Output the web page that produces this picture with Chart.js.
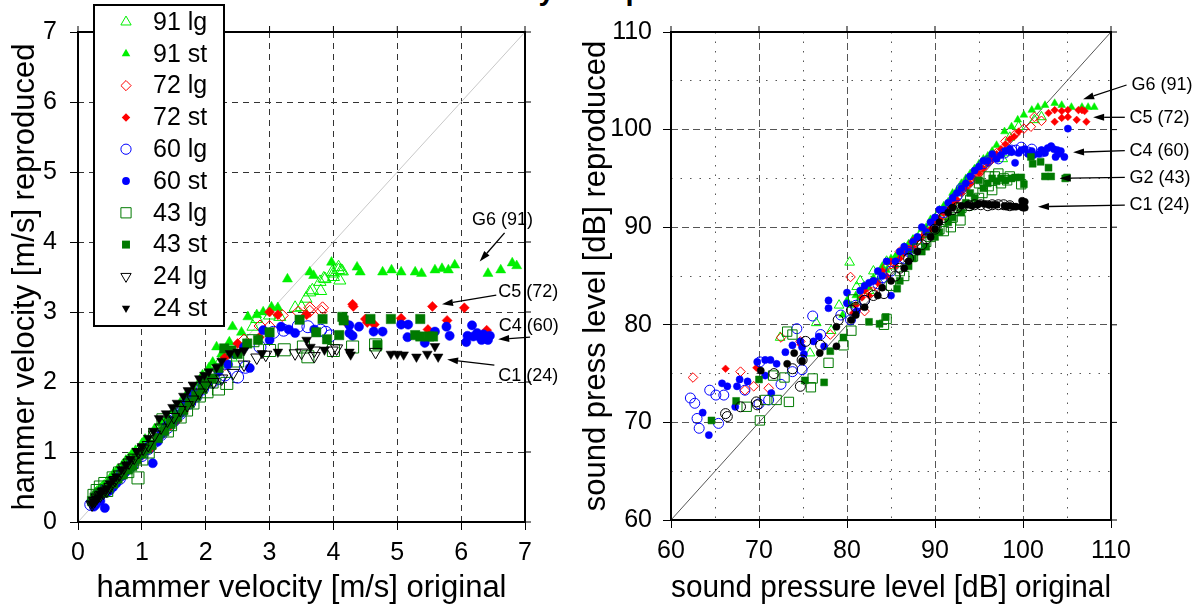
<!DOCTYPE html>
<html><head><meta charset="utf-8">
<script src="https://cdn.jsdelivr.net/npm/chart.js@4.4.1/dist/chart.umd.min.js"></script>
<style>
html,body{margin:0;padding:0;background:#fff;width:1201px;height:612px;overflow:hidden;position:relative}
#title{position:absolute;left:0;top:-24px;width:1201px;text-align:center;font:bold 29px "Liberation Sans",Arial,sans-serif;line-height:29px;white-space:nowrap}
#c1{position:absolute;left:0;top:0}
#c2{position:absolute;left:580px;top:0}
</style></head><body>
<div id="title">Accuracy of reproduction</div>
<canvas id="c1" width="580" height="612"></canvas>
<canvas id="c2" width="621" height="612"></canvas>
<script>
// ---------- data ----------
const seriesLabels = ['91 lg','91 st','72 lg','72 st','60 lg','60 st','43 lg','43 st','24 lg','24 st'];
const leftTicks = [0,1,2,3,4,5,6,7];
const rightTicks = [60,70,80,90,100,110];
const leftDiag = [0,7];
const rightDiag = [60,110];

// hammer velocity [m/s]: [original, reproduced]
const v91lg = [[0.25,0.35],[0.28,0.4],[0.3,0.42],[0.38,0.48],[0.45,0.55],[0.55,0.62],[0.6,0.7],[0.65,0.72],[0.75,0.82],[0.8,0.9],[0.9,0.95],[1.05,1.1],[1.15,1.22],[1.2,1.25],[1.35,1.4],[1.45,1.5],[1.5,1.55],[1.7,1.72],[1.8,1.85],[1.9,1.92],[2.0,2.05],[2.1,2.1],[2.2,2.25],[2.3,2.3],[2.4,2.35],[2.5,2.45],[2.74,2.79],[2.8,2.9],[3.0,2.95],[3.16,2.93],[3.4,3.06],[3.5,3.07],[3.57,3.19],[3.63,3.28],[3.67,3.31],[3.79,3.43],[3.8,3.3],[3.85,3.48],[3.87,3.47],[3.98,3.57],[4.0,3.5],[4.0,3.55],[4.08,3.6],[4.08,3.64],[4.1,3.45],[4.12,3.59],[4.14,3.58]];
const v91st = [[0.22,0.3],[0.26,0.35],[0.3,0.4],[0.35,0.48],[0.4,0.52],[0.5,0.62],[0.55,0.68],[0.62,0.75],[0.7,0.82],[0.75,0.88],[0.85,0.98],[0.9,1.02],[1.0,1.12],[1.05,1.18],[1.2,1.33],[1.3,1.42],[1.4,1.5],[1.5,1.6],[1.6,1.7],[1.7,1.82],[1.8,1.9],[1.9,2.0],[1.95,2.1],[2.05,2.2],[2.11,2.28],[2.17,2.5],[2.25,2.4],[2.37,2.57],[2.42,2.79],[2.56,2.71],[2.66,2.93],[2.8,2.96],[2.9,3.0],[3.03,3.07],[3.13,3.06],[3.28,3.47],[3.63,3.57],[3.69,3.52],[3.97,3.71],[4.37,3.64],[4.42,3.57],[4.77,3.57],[4.91,3.6],[5.06,3.57],[5.28,3.57],[5.38,3.55],[5.59,3.6],[5.7,3.62],[5.8,3.6],[5.9,3.67],[6.42,3.55],[6.62,3.6],[6.8,3.7],[6.87,3.66]];
const v72lg = [[0.25,0.3],[0.35,0.38],[0.5,0.5],[0.7,0.68],[0.9,0.86],[1.1,1.05],[1.3,1.25],[1.5,1.45],[1.75,1.7],[2.0,1.95],[2.3,2.25],[2.6,2.6],[2.85,2.8],[3.0,2.79],[3.2,2.95],[3.45,3.0],[3.63,3.01],[3.63,3.06],[3.81,3.01],[3.83,3.06]];
const v72st = [[0.22,0.28],[0.28,0.32],[0.32,0.35],[0.4,0.42],[0.45,0.48],[0.6,0.58],[0.7,0.7],[0.8,0.78],[0.9,0.88],[1.0,0.95],[1.15,1.05],[1.25,1.2],[1.35,1.28],[1.45,1.38],[1.55,1.45],[1.65,1.58],[1.8,1.75],[1.9,1.85],[2.05,2.0],[2.2,2.15],[2.3,2.35],[2.5,2.55],[2.84,2.64],[3.13,2.96],[3.0,3.0],[3.58,2.96],[4.22,2.83],[4.3,3.11],[4.31,3.08],[4.5,2.9],[4.53,2.85],[4.64,2.82],[5.06,2.91],[5.48,2.75],[5.55,3.08],[5.78,2.88],[6.05,3.06],[6.4,2.74]];
const v60lg = [[0.2,0.25],[0.25,0.28],[0.3,0.32],[0.35,0.4],[0.42,0.45],[0.5,0.5],[0.55,0.55],[0.65,0.62],[0.7,0.7],[0.8,0.78],[0.85,0.82],[1.0,0.95],[1.1,1.05],[1.2,1.15],[1.3,1.25],[1.4,1.35],[1.5,1.45],[1.6,1.55],[1.75,1.7],[1.85,1.8],[1.95,1.9],[2.1,2.0],[2.2,2.05],[2.3,2.1],[2.5,2.07],[2.62,2.21],[2.85,2.5],[3.06,2.71],[3.22,2.74],[3.45,2.8],[3.6,2.79],[3.8,2.74],[3.88,2.71],[3.95,2.66]];
const v60st = [[0.21,0.29],[0.25,0.22],[0.28,0.25],[0.32,0.38],[0.35,0.3],[0.42,0.2],[0.45,0.42],[0.5,0.45],[0.55,0.5],[0.6,0.55],[0.68,0.65],[0.75,0.72],[0.82,0.8],[0.9,0.88],[0.98,0.95],[1.05,1.02],[1.12,1.1],[1.17,0.84],[1.25,1.15],[1.3,1.25],[1.4,1.38],[1.5,1.45],[1.6,1.55],[1.7,1.72],[1.8,1.82],[1.95,1.95],[2.05,2.0],[2.2,2.15],[2.35,2.25],[2.45,2.4],[2.6,2.5],[2.69,2.2],[2.9,2.74],[3.0,2.6],[3.18,2.79],[3.3,2.75],[3.4,2.7],[3.7,2.75],[4.25,2.81],[4.25,2.7],[4.3,2.66],[4.4,2.79],[4.63,2.72],[4.77,2.72],[5.06,2.82],[5.16,2.64],[5.17,2.82],[5.43,2.56],[5.59,2.72],[5.77,2.79],[5.82,2.66],[6.08,2.57],[6.1,2.66],[6.17,2.81],[6.19,2.65],[6.25,2.7],[6.28,2.65],[6.32,2.6],[6.35,2.68],[6.4,2.62],[6.42,2.6],[6.45,2.66]];
const v43lg = [[0.25,0.38],[0.3,0.45],[0.35,0.5],[0.42,0.55],[0.45,0.45],[0.55,0.63],[0.65,0.7],[0.78,0.72],[0.85,0.85],[0.94,0.63],[1.0,0.9],[1.1,1.0],[1.2,1.25],[1.33,1.46],[1.4,1.3],[1.45,1.39],[1.6,1.5],[1.7,1.6],[1.8,1.7],[1.9,1.8],[2.02,1.86],[2.1,2.0],[2.2,1.9],[2.33,1.98],[2.5,2.3],[2.74,2.59],[3.0,2.45],[3.23,2.46],[3.53,2.5],[3.6,2.36],[4.0,2.45],[4.3,2.5],[4.66,2.53]];
const v43st = [[0.22,0.3],[0.26,0.35],[0.3,0.38],[0.35,0.42],[0.4,0.42],[0.48,0.5],[0.55,0.55],[0.62,0.62],[0.7,0.68],[0.78,0.75],[0.85,0.8],[0.92,0.9],[1.0,0.98],[1.08,1.05],[1.15,1.1],[1.25,1.2],[1.35,1.3],[1.45,1.4],[1.55,1.5],[1.65,1.6],[1.75,1.7],[1.85,1.8],[1.95,1.9],[2.0,2.0],[2.1,2.05],[2.2,2.2],[2.29,2.48],[2.4,2.45],[2.5,2.4],[2.65,2.55],[2.82,2.6],[3.0,2.71],[3.47,2.89],[3.73,2.71],[3.83,2.9],[3.9,2.61],[4.09,2.67],[4.14,2.93],[4.16,2.88],[4.58,2.9],[4.69,2.53],[4.9,2.9],[5.28,2.67],[5.36,2.9],[5.36,2.65],[5.5,2.65],[5.56,2.65]];
const v24lg = [[0.22,0.25],[0.26,0.3],[0.3,0.35],[0.35,0.38],[0.4,0.42],[0.45,0.45],[0.5,0.5],[0.58,0.6],[0.65,0.68],[0.72,0.78],[0.8,0.85],[0.88,0.92],[0.95,1.0],[1.02,1.05],[1.1,1.1],[1.2,1.25],[1.3,1.35],[1.4,1.45],[1.5,1.5],[1.6,1.6],[1.71,1.67],[1.8,1.75],[1.9,1.85],[2.0,1.95],[2.12,2.0],[2.25,2.05],[2.43,2.13],[2.6,2.25],[2.8,2.35],[2.94,2.39],[3.4,2.41],[3.5,2.42],[3.7,2.45],[3.7,2.37],[3.98,2.45],[4.05,2.48],[4.66,2.43]];
const v24st = [[0.22,0.26],[0.25,0.3],[0.28,0.33],[0.32,0.35],[0.35,0.4],[0.38,0.45],[0.45,0.48],[0.5,0.55],[0.55,0.6],[0.6,0.65],[0.68,0.75],[0.75,0.82],[0.82,0.9],[0.92,1.01],[1.0,1.08],[1.1,1.2],[1.18,1.3],[1.27,1.48],[1.38,1.55],[1.48,1.64],[1.55,1.7],[1.65,1.8],[1.72,1.88],[1.8,1.96],[1.9,2.05],[1.98,2.1],[2.05,2.15],[2.17,2.21],[2.25,2.3],[2.38,2.41],[2.5,2.43],[2.6,2.45],[2.88,2.41],[3.13,2.43],[3.58,2.6],[3.64,2.5],[3.86,2.46],[4.25,2.43],[4.27,2.39],[4.9,2.4],[5.0,2.4],[5.1,2.39],[5.3,2.36],[5.47,2.4],[5.59,2.51],[5.64,2.36]];

// sound pressure level [dB]: [original, reproduced]
const s91lg = [[72.4,78.7],[75.8,77.1],[76.5,80.2],[78.2,79.4],[79.1,82.0],[80.3,86.4],[81.1,83.9],[81.5,84.5],[82.5,83.5],[83.0,85.5],[83.5,85.0],[84.5,86.5],[85.0,86.0],[85.5,86.8],[86.5,87.5],[87.0,87.8],[87.5,88.6],[88.5,89.5],[89.0,89.6],[89.5,90.2],[90.5,91.5],[91.0,91.2],[91.5,92.0],[92.5,93.5],[93.0,94.0],[93.5,94.5],[94.5,95.8],[95.0,96.0],[95.5,96.5],[96.5,97.2],[97.7,97.0],[97.9,97.6],[98.5,99.2],[99.5,100.3],[101.3,101.0],[102.1,101.3]];
const s91st = [[79.5,81.0],[80.0,82.5],[80.5,82.0],[81.0,83.0],[81.5,82.8],[82.0,84.0],[82.5,83.8],[83.0,84.8],[83.5,84.5],[84.0,86.0],[84.5,85.6],[85.0,86.8],[85.5,87.0],[86.0,87.2],[86.5,88.0],[87.0,88.3],[87.5,88.8],[88.0,89.0],[88.5,89.8],[89.0,90.0],[89.5,90.8],[90.0,91.0],[90.5,91.8],[91.0,92.2],[91.5,92.6],[92.0,93.5],[92.5,93.8],[93.0,94.5],[93.5,95.0],[94.0,95.5],[94.5,96.0],[95.0,96.5],[95.5,97.0],[96.0,97.3],[96.5,97.8],[97.0,98.4],[97.9,99.8],[98.7,100.3],[99.4,101.0],[100.1,101.5],[101.0,102.0],[101.7,102.3],[102.5,102.5],[103.6,102.7],[104.4,102.5],[105.5,102.3],[106.7,102.3],[107.4,102.3],[108.1,102.3]];
const s72lg = [[62.5,74.6],[67.9,75.2],[68.4,73.3],[69.4,73.7],[71.1,73.5],[72.5,78.7],[74.7,78.3],[78.1,79.0],[80.4,84.9],[82.0,81.4],[82.9,83.4],[83.0,84.0],[84.5,86.0],[85.0,86.2],[86.0,87.5],[87.5,88.5],[88.0,88.6],[89.0,89.5],[90.5,91.0],[91.0,91.2],[92.0,92.5],[93.5,94.2],[94.0,94.6],[95.0,95.5],[96.5,97.0],[97.0,97.6],[98.0,98.8],[99.1,99.5],[100.1,100.1],[100.9,100.3],[101.3,101.3],[102.1,100.9]];
const s72st = [[66.2,75.5],[69.7,75.6],[74.7,78.0],[80.7,81.2],[81.0,82.0],[81.7,82.8],[82.0,83.5],[82.5,83.0],[83.0,84.5],[83.5,84.3],[84.0,85.5],[84.5,85.0],[85.0,86.5],[85.5,86.0],[86.0,86.8],[86.5,87.3],[87.0,87.8],[87.5,88.0],[88.0,88.8],[88.5,89.0],[89.0,89.5],[89.5,89.8],[90.0,90.5],[90.5,90.8],[91.0,91.5],[91.5,91.8],[92.0,92.5],[92.5,92.8],[93.0,93.5],[93.5,94.0],[94.0,94.5],[94.5,95.0],[95.0,95.5],[95.5,96.0],[96.0,96.5],[96.5,97.0],[97.0,97.5],[97.5,98.0],[98.0,98.5],[98.5,99.0],[99.0,99.3],[99.5,99.8],[102.9,101.7],[103.6,100.8],[103.6,102.0],[104.4,101.2],[104.4,101.9],[105.1,101.3],[105.1,102.0],[106.1,101.0],[106.3,102.0],[106.7,102.0],[107.0,101.9],[107.2,100.8]];
const s60lg = [[62.2,72.5],[62.7,71.96],[62.96,70.4],[63.2,69.4],[64.4,73.3],[65.1,72.8],[65.4,69.9],[66.0,72.8],[68.4,73.3],[70.0,71.9],[70.1,76.2],[71.1,72.3],[72.5,73.9],[73.8,75.2],[74.3,79.6],[74.9,75.4],[76.1,80.9],[77.0,79.0],[79.3,81.0],[80.4,80.5],[81.0,82.0],[82.0,82.5],[83.5,84.2],[84.0,84.8],[85.0,85.5],[86.5,86.8],[87.0,87.5],[88.0,88.2],[89.5,89.8],[90.0,90.5],[91.0,91.5],[92.5,93.2],[93.0,94.0],[94.0,95.0],[95.5,96.5],[96.0,96.8],[97.2,97.0],[97.9,97.6],[98.7,97.9],[99.2,97.9],[99.8,98.2],[100.6,97.7],[101.0,98.0],[102.1,97.7]];
const s60st = [[63.6,71.0],[64.3,68.7],[65.8,74.0],[66.4,73.7],[67.3,71.6],[67.5,73.7],[67.8,74.4],[68.7,74.2],[69.8,76.2],[70.7,76.4],[70.7,74.8],[71.3,76.4],[71.4,73.0],[72.0,76.0],[73.0,77.2],[73.8,77.9],[74.7,78.3],[74.9,77.7],[75.1,77.0],[76.2,78.3],[76.8,78.8],[77.4,77.8],[77.9,81.7],[77.9,82.5],[80.0,82.2],[80.0,83.3],[81.1,81.4],[81.5,83.5],[82.0,84.0],[82.5,84.3],[83.0,84.5],[83.5,85.5],[84.0,85.0],[84.5,86.5],[85.0,83.0],[85.5,86.5],[86.0,87.5],[86.5,88.0],[87.0,87.5],[87.5,88.5],[88.0,89.0],[88.5,90.0],[89.0,89.5],[89.5,90.5],[90.0,91.0],[90.5,91.8],[91.0,91.8],[91.5,92.5],[92.0,93.0],[92.5,93.5],[93.0,94.0],[93.5,94.5],[94.0,95.2],[94.5,95.8],[95.0,96.2],[95.5,96.8],[96.0,96.8],[96.5,97.5],[97.0,97.0],[97.5,97.4],[98.0,97.8],[98.5,98.0],[98.7,97.7],[99.1,96.6],[99.5,97.6],[99.8,97.9],[100.2,98.0],[100.6,97.5],[101.0,97.8],[101.2,97.4],[101.8,97.5],[102.1,97.9],[102.5,97.6],[102.8,98.1],[103.2,98.3],[103.5,98.0],[103.7,97.2],[103.9,97.9],[104.0,97.5],[104.3,97.8],[104.7,97.2],[105.1,100.1]];
const s43lg = [[68.6,71.6],[70.1,70.2],[70.7,72.3],[71.6,74.8],[72.0,72.3],[72.9,74.6],[73.2,79.3],[73.4,72.1],[73.8,79.0],[75.9,73.6],[76.1,74.5],[77.9,76.1],[79.6,77.9],[80.5,79.4],[80.7,82.6],[84.2,80.0],[84.5,80.6],[85.0,84.0],[86.0,85.5],[86.5,85.0],[87.5,87.0],[88.0,87.8],[89.0,88.5],[89.5,89.0],[90.5,89.8],[91.0,89.6],[91.8,90.0],[92.0,91.0],[92.9,90.7],[93.0,92.0],[93.7,92.2],[94.0,92.8],[95.0,93.0],[95.0,94.5],[95.4,93.5],[96.1,94.2],[96.1,95.2],[96.5,93.8],[96.8,95.2],[97.2,95.5],[97.5,94.5],[97.8,95.0],[98.2,94.8],[98.5,95.2],[99.8,94.4]];
const s43st = [[64.6,70.2],[67.4,72.2],[70.0,74.4],[75.2,74.3],[77.4,74.1],[78.1,77.3],[79.6,78.7],[82.5,80.3],[83.7,80.1],[84.4,80.8],[85.7,83.7],[86.0,84.5],[87.0,86.0],[87.5,86.8],[88.5,87.5],[89.0,88.0],[90.0,89.0],[90.5,89.5],[91.5,90.5],[92.0,91.0],[93.0,91.5],[93.5,92.5],[94.0,93.5],[94.5,93.0],[95.0,94.8],[95.5,94.0],[96.0,94.5],[96.5,95.0],[97.0,94.7],[97.5,95.0],[98.0,94.8],[98.7,95.0],[99.1,95.1],[99.8,95.1],[100.1,94.4],[100.9,97.2],[101.1,96.5],[102.0,96.7],[102.5,95.2],[102.9,96.1],[103.2,95.2],[104.8,95.0],[105.0,95.1]];
const s24lg = [[66.2,70.9],[66.4,70.6],[67.9,71.6],[69.7,72.1],[69.8,71.8],[71.7,75.0],[73.8,75.5],[74.7,73.7],[74.9,76.4],[75.3,78.3],[77.0,77.9],[79.0,80.5],[80.5,81.5],[81.0,81.8],[82.0,82.5],[83.0,83.0],[84.2,83.2],[85.5,85.0],[86.0,85.8],[87.0,86.8],[88.5,88.2],[89.0,88.8],[90.0,89.8],[91.0,91.0],[92.0,91.8],[92.5,92.0],[93.9,92.2],[94.5,92.3],[95.2,92.3],[96.0,92.2],[96.5,92.3],[97.2,92.3],[97.8,92.3],[98.5,92.2]];
const s24st = [[70.2,75.3],[73.2,76.0],[74.0,77.1],[74.9,76.3],[76.9,77.1],[78.8,79.8],[78.8,77.8],[80.5,80.5],[81.0,81.0],[82.0,81.8],[83.5,83.0],[84.0,83.8],[85.0,84.5],[86.5,85.8],[87.0,86.5],[88.0,87.5],[89.5,89.0],[90.0,89.8],[90.5,90.5],[91.5,91.5],[92.0,92.0],[93.0,92.2],[93.7,92.3],[94.2,92.2],[94.8,92.3],[95.0,92.4],[95.6,92.4],[96.1,92.3],[96.6,92.3],[97.0,92.3],[97.9,92.2],[98.1,92.1],[98.5,92.2],[98.9,92.1],[99.2,92.1],[99.8,92.1],[99.9,92.7],[100.0,92.0],[100.2,92.6],[100.2,92.0]];

// annotation labels (text anchor and arrow in data units)
const leftNotes = [
  {text:'G6 (91)', at:[6.17,4.31], from:[6.68,4.13], to:[6.29,3.72]},
  {text:'C5 (72)', at:[6.58,3.29], from:[6.55,3.24], to:[5.70,3.11]},
  {text:'C4 (60)', at:[6.59,2.80], from:[7.08,2.64], to:[6.58,2.61]},
  {text:'C1 (24)', at:[6.58,2.09], from:[6.52,2.24], to:[5.78,2.32]}
];
const rightNotes = [
  {text:'G6 (91)', at:[112.34,104.57], from:[111.77,104.57], to:[106.83,103.11]},
  {text:'C5 (72)', at:[112.1,101.19], from:[111.57,101.26], to:[107.97,101.26]},
  {text:'C4 (60)', at:[112.1,97.81], from:[111.57,97.84], to:[105.69,97.67]},
  {text:'G2 (43)', at:[112.1,95.04], from:[111.57,95.11], to:[104.16,95.01]},
  {text:'C1 (24)', at:[112.1,92.27], from:[111.57,92.27], to:[101.70,92.10]}
];

// ---------- styles ----------
const FONT = '"Liberation Sans", Arial, Helvetica, sans-serif';
Chart.defaults.font.family = FONT;
Chart.defaults.color = '#000';
const LIME='#00f000', RED='#ff0000', BLUE='#0000ff', DGREEN='#007a00', BLACK='#000000';
const leftStyles = [
  {shape:'triangle',rot:0,fill:false,color:LIME,r:7},
  {shape:'triangle',rot:0,fill:true,color:LIME,r:5.8},
  {shape:'rectRot',rot:0,fill:false,color:RED,r:6},
  {shape:'rectRot',rot:0,fill:true,color:RED,r:5},
  {shape:'circle',rot:0,fill:false,color:BLUE,r:6},
  {shape:'circle',rot:0,fill:true,color:BLUE,r:4.6},
  {shape:'rect',rot:0,fill:false,color:DGREEN,r:8.5},
  {shape:'rect',rot:0,fill:true,color:DGREEN,r:6.6},
  {shape:'triangle',rot:180,fill:false,color:BLACK,r:7},
  {shape:'triangle',rot:180,fill:true,color:BLACK,r:5.6}
];
const rightStyles = [
  {shape:'triangle',rot:0,fill:false,color:LIME,r:5.6},
  {shape:'triangle',rot:0,fill:true,color:LIME,r:4.5},
  {shape:'rectRot',rot:0,fill:false,color:RED,r:4.8},
  {shape:'rectRot',rot:0,fill:true,color:RED,r:3.8},
  {shape:'circle',rot:0,fill:false,color:BLUE,r:5},
  {shape:'circle',rot:0,fill:true,color:BLUE,r:3.6},
  {shape:'rect',rot:0,fill:false,color:DGREEN,r:6.6},
  {shape:'rect',rot:0,fill:true,color:DGREEN,r:4.9},
  {shape:'circle',rot:0,fill:false,color:BLACK,r:5},
  {shape:'circle',rot:0,fill:true,color:BLACK,r:3.6}
];

function mk(label, pairs, st, idx){
  return {
    type:'scatter', label,
    data: pairs.map(p=>({x:p[0], y:p[1]})),
    pointStyle: st.shape, pointRotation: st.rot, pointRadius: st.r,
    pointBackgroundColor: st.fill ? st.color : 'rgba(0,0,0,0)',
    pointBorderColor: st.color, pointBorderWidth: st.fill ? 0.5 : 1,
    order: 10 - idx
  };
}
function diag(vals, color){
  return {type:'line', label:'diag', data: vals.map(v=>({x:v,y:v})), borderColor:color, borderWidth:1,
    pointRadius:0, fill:false, order:50};
}

function drawMarker(ctx, st, x, y, scale){
  const r = st.r*scale;
  ctx.save();
  ctx.translate(x,y);
  ctx.rotate(st.rot*Math.PI/180);
  ctx.beginPath();
  if (st.shape==='circle'){ ctx.arc(0,0,r,0,Math.PI*2); }
  else if (st.shape==='triangle'){
    for (let k=0;k<3;k++){ const a=k*2*Math.PI/3; const px=Math.sin(a)*r, py=-Math.cos(a)*r; k?ctx.lineTo(px,py):ctx.moveTo(px,py);} ctx.closePath();
  } else if (st.shape==='rectRot'){ ctx.moveTo(0,-r);ctx.lineTo(r,0);ctx.lineTo(0,r);ctx.lineTo(-r,0);ctx.closePath(); }
  else { const h=r*Math.SQRT1_2; ctx.rect(-h,-h,2*h,2*h); }
  if (st.fill){ ctx.fillStyle=st.color; ctx.fill(); }
  else { ctx.strokeStyle=st.color; ctx.lineWidth=1; ctx.stroke(); }
  ctx.restore();
}

const framePlugin = {
  id:'frame',
  afterDatasetsDraw(chart, args, opts){
    const {ctx, chartArea:a, scales} = chart;
    ctx.save();
    ctx.strokeStyle='#000'; ctx.lineWidth=1;
    (opts.ticks||[]).forEach(v=>{
      const px=scales.x.getPixelForValue(v);
      ctx.beginPath(); ctx.moveTo(px,a.top); ctx.lineTo(px,a.top-6); ctx.stroke();
      const py=scales.y.getPixelForValue(v);
      ctx.beginPath(); ctx.moveTo(a.right,py); ctx.lineTo(a.right+6,py); ctx.stroke();
    });
    ctx.lineWidth=2;
    ctx.strokeRect(a.left,a.top,a.right-a.left,a.bottom-a.top);
    ctx.restore();
  },
  afterDraw(chart, args, opts){
    const {ctx, scales} = chart;
    ctx.save();
    if (opts.legend){
      const L = opts.legend;
      ctx.fillStyle='#fff'; ctx.fillRect(L.x,L.y,L.w,L.h);
      ctx.strokeStyle='#000'; ctx.lineWidth=2; ctx.strokeRect(L.x,L.y,L.w,L.h);
      ctx.font='25px '+FONT; ctx.textBaseline='middle'; ctx.textAlign='left';
      seriesLabels.forEach((lab,i)=>{
        const yy = L.y0 + i*L.step;
        drawMarker(ctx, leftStyles[i], L.mx, yy, 0.85);
        ctx.fillStyle='#000';
        ctx.fillText(lab, L.tx, yy+1);
      });
    }
    (opts.notes||[]).forEach(n=>{
      const X=v=>scales.x.getPixelForValue(v), Y=v=>scales.y.getPixelForValue(v);
      ctx.font='18px '+FONT; ctx.fillStyle='#000'; ctx.textBaseline='middle'; ctx.textAlign='left';
      ctx.fillText(n.text, X(n.at[0]), Y(n.at[1]));
      const x1=X(n.from[0]), y1=Y(n.from[1]), x2=X(n.to[0]), y2=Y(n.to[1]);
      const ang=Math.atan2(y2-y1,x2-x1), hl=11, hw=3.5;
      const bx=x2-Math.cos(ang)*hl, by=y2-Math.sin(ang)*hl;
      ctx.strokeStyle='#000'; ctx.lineWidth=1.3;
      ctx.beginPath(); ctx.moveTo(x1,y1); ctx.lineTo(bx,by); ctx.stroke();
      ctx.beginPath(); ctx.moveTo(x2,y2);
      ctx.lineTo(bx+Math.sin(ang)*hw, by-Math.cos(ang)*hw);
      ctx.lineTo(bx-Math.sin(ang)*hw, by+Math.cos(ang)*hw);
      ctx.closePath(); ctx.fillStyle='#000'; ctx.fill();
    });
    ctx.restore();
  }
};

function axis(opts){
  const {min,max,step,title,size,isX,tickPad,titlePad,dash,minorDash,gridColor} = opts;
  return {
    type:'linear', min, max,
    ticks:{stepSize:step, autoSkip:false, maxRotation:0, padding:tickPad, font:{size:25}, color:'#000',
      callback:(v)=> (minorDash && v%10!==0) ? '' : String(v)},
    grid:{color:gridColor, lineWidth:1, tickLength:8, tickWidth:1,
      tickColor:(c)=> (minorDash && c.tick && c.tick.value%10!==0) ? 'rgba(0,0,0,0)' : '#000'},
    border:{display:false, dash:(c)=> (minorDash && c.tick && c.tick.value%10!==0) ? minorDash : dash},
    title:{display:true, text:title, font:{size:31, lineHeight:1}, color:'#000', padding:titlePad},
    afterFit:(s)=>{ if(isX) s.height=size; else s.width=size; }
  };
}

const leftSets = [v91lg,v91st,v72lg,v72st,v60lg,v60st,v43lg,v43st,v24lg,v24st];
const rightSets = [s91lg,s91st,s72lg,s72st,s60lg,s60st,s43lg,s43st,s24lg,s24st];

new Chart(document.getElementById('c1'), {
  data:{datasets:[diag(leftDiag,'#c8c8c8')].concat(leftSets.map((d,i)=>mk(seriesLabels[i],d,leftStyles[i],i)))},
  options:{
    responsive:false, animation:false, events:[], devicePixelRatio:1,
    layout:{padding:{top:32,right:55,left:0,bottom:0}},
    plugins:{legend:{display:false}, tooltip:{enabled:false},
      frame:{ticks:leftTicks, notes:leftNotes,
        legend:{x:94,y:5,w:130,h:321,mx:126,tx:153,y0:22,step:31.8}}},
    scales:{
      x: axis({min:0,max:7,step:1,title:'hammer velocity [m/s] original',size:90,isX:true,tickPad:8,titlePad:{top:0,bottom:8},dash:[6,5],gridColor:'#333'}),
      y: axis({min:0,max:7,step:1,title:'hammer velocity [m/s] reproduced',size:78,isX:false,tickPad:13,titlePad:{top:10,bottom:0},dash:[6,5],gridColor:'#333'})
    }
  },
  plugins:[framePlugin]
});

new Chart(document.getElementById('c2'), {
  data:{datasets:[diag(rightDiag,'#555')].concat(rightSets.map((d,i)=>mk(seriesLabels[i],d,rightStyles[i],i)))},
  options:{
    responsive:false, animation:false, events:[], devicePixelRatio:1,
    layout:{padding:{top:32,right:90,left:0,bottom:0}},
    plugins:{legend:{display:false}, tooltip:{enabled:false},
      frame:{ticks:rightTicks, notes:rightNotes}},
    scales:{
      x: axis({min:60,max:110,step:5,title:'sound pressure level [dB] original',size:92,isX:true,tickPad:8,titlePad:{top:0,bottom:8},dash:[7,4],minorDash:[1.5,8],gridColor:'#555'}),
      y: axis({min:60,max:110,step:5,title:'sound press level [dB] reproduced',size:91,isX:false,tickPad:11,titlePad:{top:1,bottom:0},dash:[7,4],minorDash:[1.5,8],gridColor:'#555'})
    }
  },
  plugins:[framePlugin]
});
</script>
</body></html>
